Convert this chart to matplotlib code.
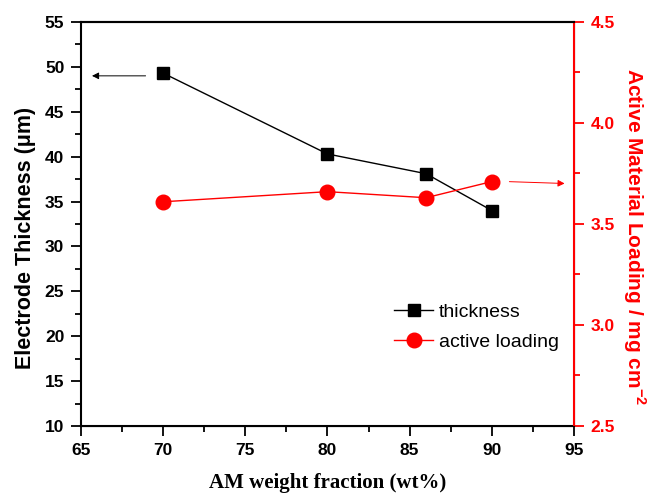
import matplotlib.pyplot as plt
from matplotlib.ticker import MultipleLocator

# data
am_fraction = [70, 80, 86, 90]
thickness = [49.3, 40.3, 38.1, 34.0]
active_loading = [3.61, 3.66, 3.63, 3.71]

red = '#ff0000'

plt.rcParams['font.family'] = 'Liberation Sans'
plt.rcParams['font.weight'] = 'bold'
plt.rcParams['mathtext.fontset'] = 'custom'
plt.rcParams['mathtext.rm'] = 'Liberation Sans:bold'
plt.rcParams['mathtext.bf'] = 'Liberation Sans:bold'

fig = plt.figure(figsize=(6.51, 4.95), dpi=100)
ax = fig.add_axes([0.1244, 0.1394, 0.7573, 0.8162])
ax2 = ax.twinx()

ln1, = ax.plot(am_fraction, thickness, '-s', color='black', lw=1,
               markersize=9, label='thickness')
ln2, = ax2.plot(am_fraction, active_loading, '-o', color=red, lw=1,
                markersize=10.5, label='active loading')

ax.set_xlim(65, 95)
ax.set_ylim(10, 55)
ax2.set_ylim(2.5, 4.5)

ax.xaxis.set_major_locator(MultipleLocator(5))
ax.xaxis.set_minor_locator(MultipleLocator(2.5))
ax.yaxis.set_major_locator(MultipleLocator(5))
ax.yaxis.set_minor_locator(MultipleLocator(2.5))
ax2.yaxis.set_major_locator(MultipleLocator(0.5))
ax2.yaxis.set_minor_locator(MultipleLocator(0.25))

ax.tick_params(which='major', direction='out', length=7, width=1.3, labelsize=12.5, pad=5)
ax.tick_params(which='minor', direction='out', length=4, width=1.3)
ax2.tick_params(which='major', direction='out', length=7, width=1.3, color=red,
                labelcolor=red, labelsize=12.5, pad=5)
ax2.tick_params(which='minor', direction='out', length=4, width=1.3, color=red)

for side in ['left', 'bottom', 'top']:
    ax.spines[side].set_linewidth(1.5)
ax2.spines['right'].set_color(red)
ax2.spines['right'].set_linewidth(1.5)
ax2.spines['left'].set_visible(False)
ax2.spines['top'].set_linewidth(1.5)

ax.set_ylabel('Electrode Thickness (\u03bcm)', weight='bold', size=15.5)
ax.yaxis.set_label_coords(-0.091, 0.465)
# right label reads top to bottom in the reference
ax2.set_ylabel('Active Material Loading / mg cm$^{-2}$', weight='bold', size=15,
               color=red, rotation=270, va='bottom')
ax2.yaxis.set_label_coords(1.095, 0.468)
ax.set_xlabel('AM weight fraction (wt%)', family='Liberation Serif',
              weight='bold', size=15)
ax.xaxis.set_label_coords(0.5, -0.117)

# arrows pointing to the matching axis
ax.annotate('', xy=(65.5, 49.0), xytext=(69.1, 49.0),
            arrowprops=dict(arrowstyle='-|>', color='black', lw=0.7, mutation_scale=10))
ax2.annotate('', xy=(94.6, 3.70), xytext=(90.9, 3.71),
             arrowprops=dict(arrowstyle='-|>', color=red, lw=0.7, mutation_scale=10))

leg = ax.legend(handles=[ln1, ln2], loc='lower left', bbox_to_anchor=(0.6, 0.142),
                frameon=False, prop={'family': 'Liberation Sans', 'weight': 'normal', 'size': 14},
                handlelength=2.0, handletextpad=0.3, labelspacing=0.65)

fig.savefig('out.png', dpi=100)
